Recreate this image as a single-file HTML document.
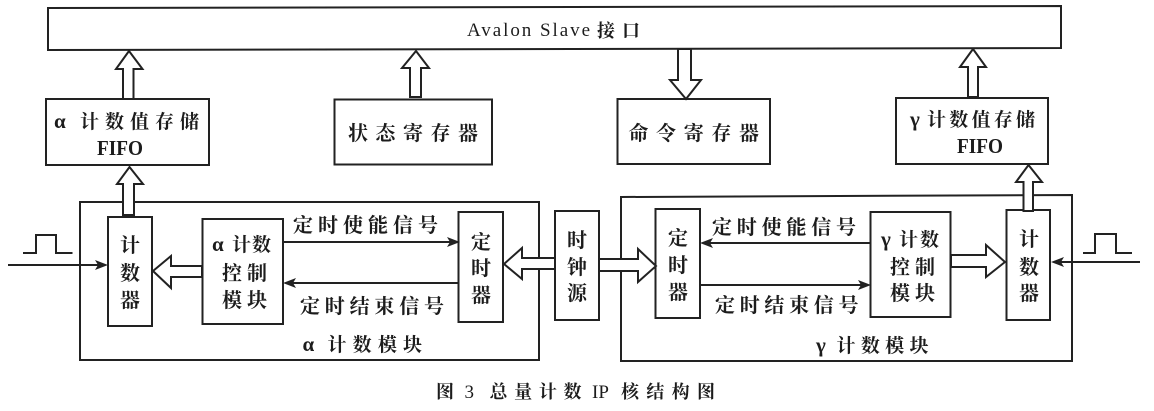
<!DOCTYPE html>
<html>
<head>
<meta charset="utf-8">
<style>
html,body{margin:0;padding:0;background:#fff;}
svg{display:block;}
text{font-family:"Liberation Serif","Noto Serif CJK SC",serif;fill:#1c1c1c;font-weight:700;}
.b{fill:#fff;stroke:#222;stroke-width:2;}
.a{fill:#fff;stroke:#222;stroke-width:2;stroke-linejoin:miter;}
.l{fill:none;stroke:#222;stroke-width:2;}
.h{fill:#222;stroke:none;}
.t{font-size:20px;}
.s{font-size:19px;}
.g{font-size:21px;}
.c{font-size:18px;}
.r{font-size:19px;font-weight:400;}
</style>
</head>
<body>
<svg width="1154" height="411" viewBox="0 0 1154 411" xmlns="http://www.w3.org/2000/svg">
<rect width="1154" height="411" fill="#fff"/>

<polygon class="b" points="48,8 1061,6 1061,48 48,50"/>
<rect class="b" x="46" y="99" width="163" height="66"/>
<rect class="b" x="334.5" y="99.5" width="157.5" height="65"/>
<rect class="b" x="617.5" y="99" width="152.5" height="65"/>
<rect class="b" x="896" y="98" width="152" height="66"/>

<polygon class="b" points="80,202 539,202 539,360 80,360"/>
<polygon class="b" points="621,197 1072,195 1072,361 621,361"/>

<rect class="b" x="108" y="217" width="44" height="109"/>
<rect class="b" x="202.5" y="219" width="80.5" height="105"/>
<rect class="b" x="458.5" y="212" width="44.5" height="110"/>
<rect class="b" x="555" y="211" width="44" height="109"/>
<rect class="b" x="655.5" y="209" width="44.5" height="109"/>
<rect class="b" x="870.5" y="212" width="80" height="105"/>
<rect class="b" x="1006.5" y="210" width="43.5" height="110"/>

<polygon class="a" points="129,51 142.5,69 133.5,69 133.5,99 123,99 123,69 116,69"/>
<polygon class="a" points="416,51 429,68 421,68 421,97 410,97 410,68 402,68"/>
<polygon class="a" points="678,49 691,49 691,80 701,80 686,99 670,80 678,80"/>
<polygon class="a" points="973,49 986,67 978,67 978,97 968,97 968,67 960,67"/>
<polygon class="a" points="129.5,167 143,184 134,184 134,215 123,215 123,184 117,184"/>
<polygon class="a" points="1028.5,165 1042,182 1033,182 1033,211 1023.5,211 1023.5,182 1016,182"/>

<polygon class="a" points="153,271 171,256 171,266 202,266 202,277 171,277 171,288"/>
<polygon class="a" points="504,264 522,248 522,258 555,258 555,269 522,269 522,279"/>
<polygon class="a" points="656,266 638,249 638,259 599,259 599,271 638,271 638,282"/>
<polygon class="a" points="1005,262 986,245 986,255 951,255 951,267 986,267 986,277"/>

<path class="l" d="M283,242 H450"/>
<polygon class="h" points="460,242 447,237 450,242 447,247"/>
<path class="l" d="M458,283 H292"/>
<polygon class="h" points="283,283 296,278 293,283 296,288"/>
<path class="l" d="M8,265 H100"/>
<polygon class="h" points="108,265 95,260 98,265 95,270"/>
<path class="l" d="M23,253 H36 V235 H56 V253 H72.5"/>

<path class="l" d="M870,243 H708"/>
<polygon class="h" points="700,243 713,238 710,243 713,248"/>
<path class="l" d="M700,285 H862"/>
<polygon class="h" points="871,285 858,280 861,285 858,290"/>
<path class="l" d="M1140,262 H1058"/>
<polygon class="h" points="1051,262 1064,257 1061,262 1064,267"/>
<path class="l" d="M1083,253 H1095 V234 H1116 V253 H1132"/>

<text class="r" x="467" y="36" textLength="123" lengthAdjust="spacing">Avalon  Slave</text>
<text class="c" x="597" y="37" textLength="43" lengthAdjust="spacing">接口</text>

<text class="g" x="54" y="128">α</text>
<text class="s" x="80" y="128" textLength="119" lengthAdjust="spacing">计数值存储</text>
<text class="g" x="120" y="155" text-anchor="middle" textLength="46" lengthAdjust="spacingAndGlyphs">FIFO</text>
<text class="t" x="348" y="140" textLength="130" lengthAdjust="spacing">状态寄存器</text>
<text class="t" x="628.5" y="140" textLength="130.5" lengthAdjust="spacing">命令寄存器</text>
<text class="g" x="910" y="126">γ</text>
<text class="s" x="927" y="126" textLength="108" lengthAdjust="spacing">计数值存储</text>
<text class="g" x="980" y="153" text-anchor="middle" textLength="46" lengthAdjust="spacingAndGlyphs">FIFO</text>

<text class="t" x="130" y="252" text-anchor="middle">计</text>
<text class="t" x="130" y="280" text-anchor="middle">数</text>
<text class="t" x="130" y="307" text-anchor="middle">器</text>

<text class="g" x="212" y="251">α</text>
<text class="s" x="232" y="251" textLength="39" lengthAdjust="spacing">计数</text>
<text class="t" x="222" y="280" textLength="45" lengthAdjust="spacing">控制</text>
<text class="t" x="222" y="307" textLength="45" lengthAdjust="spacing">模块</text>

<text class="t" x="481" y="249" text-anchor="middle">定</text>
<text class="t" x="481" y="275" text-anchor="middle">时</text>
<text class="t" x="481" y="302" text-anchor="middle">器</text>

<text class="t" x="577" y="247" text-anchor="middle">时</text>
<text class="t" x="577" y="274" text-anchor="middle">钟</text>
<text class="t" x="577" y="300" text-anchor="middle">源</text>

<text class="t" x="293" y="232" textLength="145" lengthAdjust="spacing">定时使能信号</text>
<text class="t" x="300" y="313" textLength="144" lengthAdjust="spacing">定时结束信号</text>
<text class="g" x="302.5" y="351">α</text>
<text class="s" x="327.5" y="351" textLength="94.5" lengthAdjust="spacing">计数模块</text>

<text class="t" x="678" y="245" text-anchor="middle">定</text>
<text class="t" x="678" y="272" text-anchor="middle">时</text>
<text class="t" x="678" y="299" text-anchor="middle">器</text>

<text class="t" x="712" y="234" textLength="144" lengthAdjust="spacing">定时使能信号</text>
<text class="t" x="715" y="312" textLength="143.5" lengthAdjust="spacing">定时结束信号</text>
<text class="g" x="816" y="352">γ</text>
<text class="s" x="836.5" y="352" textLength="92" lengthAdjust="spacing">计数模块</text>

<text class="g" x="881" y="246">γ</text>
<text class="s" x="899" y="246" textLength="40" lengthAdjust="spacing">计数</text>
<text class="t" x="890" y="274" textLength="45" lengthAdjust="spacing">控制</text>
<text class="t" x="890" y="300" textLength="45" lengthAdjust="spacing">模块</text>

<text class="t" x="1029" y="246" text-anchor="middle">计</text>
<text class="t" x="1029" y="274" text-anchor="middle">数</text>
<text class="t" x="1029" y="300" text-anchor="middle">器</text>

<text class="c" x="436" y="398">图</text>
<text class="r" x="464.5" y="398">3</text>
<text class="c" x="489.5" y="398" textLength="92" lengthAdjust="spacing">总量计数</text>
<text class="r" x="592" y="398">IP</text>
<text class="c" x="621" y="398" textLength="94" lengthAdjust="spacing">核结构图</text>
</svg>
</body>
</html>
